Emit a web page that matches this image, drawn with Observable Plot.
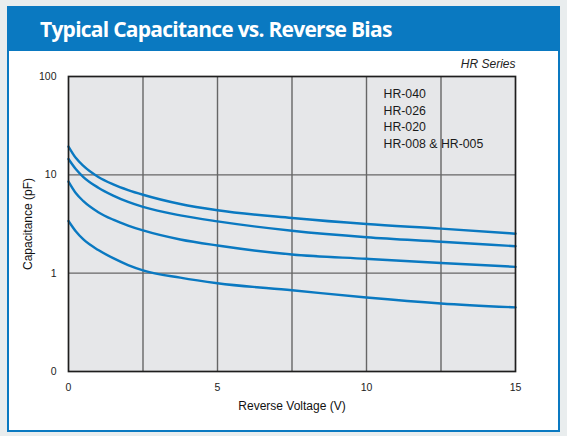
<!DOCTYPE html>
<html>
<head>
<meta charset="utf-8">
<script src="https://cdn.jsdelivr.net/npm/d3@7"></script>
<script src="https://cdn.jsdelivr.net/npm/@observablehq/plot@0.6"></script>
<style>
  html, body { margin: 0; padding: 0; }
  body { width: 567px; height: 436px; background: #e9edee; position: relative; overflow: hidden; font-family: "Liberation Sans", Arial, sans-serif; }
  #box { position: absolute; left: 7px; top: 6px; width: 553px; height: 426px; background: #0a79c1; }
  #title { position: absolute; left: 33px; top: 9px; color: #fff; font-family: "Open Sans", sans-serif; font-weight: 700; font-size: 21px; letter-spacing: -0.75px; white-space: nowrap; }
  #panel { position: absolute; left: 2px; top: 45px; width: 549px; height: 379px; background: #fff; }
  #panel svg { position: absolute; left: 0; top: 0; }
</style>
</head>
<body>
<div id="box">
  <div id="title">Typical Capacitance vs. Reverse Bias</div>
  <div id="panel"></div>
</div>
<script>
// Reverse voltage (V)
const voltage = [0, 0.25, 0.5, 1, 1.5, 2, 2.5, 3.75, 5, 7.5, 10, 12.5, 15];
// Capacitance (pF) per part
const hr040 = [19.4, 14.8, 12.3, 9.5, 8.0, 7.0, 6.27, 5.05, 4.36, 3.64, 3.16, 2.84, 2.52];
const hr026 = [14.5, 11.4, 9.5, 7.4, 6.15, 5.3, 4.72, 3.87, 3.36, 2.70, 2.32, 2.09, 1.88];
const hr020 = [8.55, 6.5, 5.4, 4.17, 3.5, 3.05, 2.72, 2.2, 1.91, 1.55, 1.40, 1.27, 1.16];
const hr008 = [3.39, 2.65, 2.2, 1.72, 1.42, 1.21, 1.07, 0.9, 0.79, 0.67, 0.565, 0.492, 0.449];
const seriesNames = ["HR-040", "HR-026", "HR-020", "HR-008 & HR-005"];
const seriesValues = [hr040, hr026, hr020, hr008];
const xTicks = [0, 5, 10, 15];
const xGrid = [2.5, 5, 7.5, 10, 12.5];
const yTicks = [0.1, 1, 10, 100];
const yTickLabels = ["0", "1", "10", "100"];
const yGrid = [1, 10];
const seriesTitle = "HR Series";
const xLabel = "Reverse Voltage (V)";
const yLabel = "Capacitance (pF)";

const rows = seriesNames.flatMap((name, i) =>
  voltage.map((v, j) => ({series: name, v, c: seriesValues[i][j]})));

const chart = Plot.plot({
  width: 549,
  height: 379,
  marginLeft: 59,
  marginRight: 43,
  marginTop: 25,
  marginBottom: 59,
  style: {fontFamily: "'Liberation Sans', Arial, sans-serif", fontSize: "10px", color: "#222", background: "transparent"},
  x: {domain: [0, 15], label: null},
  y: {type: "log", domain: [0.1, 100], label: null},
  marks: [
    Plot.frame({fill: "#e6e7e9", stroke: null}),
    Plot.ruleX(xGrid, {stroke: "#666", strokeWidth: 1.4}),
    Plot.ruleY(yGrid, {stroke: "#666", strokeWidth: 1.4}),
    Plot.line(rows, {x: "v", y: "c", z: "series", stroke: "#0a79c1", strokeWidth: 2.4, curve: "monotone-x"}),
    Plot.frame({stroke: "#1e1e1e", strokeWidth: 1.7}),
    Plot.axisX({ticks: xTicks, tickSize: 0, tickPadding: 12, fontSize: 10.5, label: null}),
    Plot.axisY({ticks: yTicks, tickSize: 0, tickPadding: 12, fontSize: 10.5, tickFormat: (d) => yTickLabels[yTicks.indexOf(d)], label: null}),
    Plot.text([xLabel], {frameAnchor: "bottom", textAnchor: "middle", lineAnchor: "middle", dy: 35, fontSize: 12, fill: "#111"}),
    Plot.text([yLabel], {frameAnchor: "left", textAnchor: "middle", lineAnchor: "middle", rotate: -90, dx: -40, fontSize: 12, fill: "#111"}),
    Plot.text([seriesNames.join("\n")], {frameAnchor: "top-left", textAnchor: "start", lineAnchor: "top", dx: 315, dy: 9.5, lineHeight: 1.36, fontSize: 12.3, fill: "#1a1a1a"}),
    Plot.text([seriesTitle], {frameAnchor: "top-right", textAnchor: "end", lineAnchor: "middle", dy: -12, fontSize: 12, fontStyle: "italic", fill: "#222"})
  ]
});
document.getElementById("panel").appendChild(chart);
</script>
</body>
</html>
